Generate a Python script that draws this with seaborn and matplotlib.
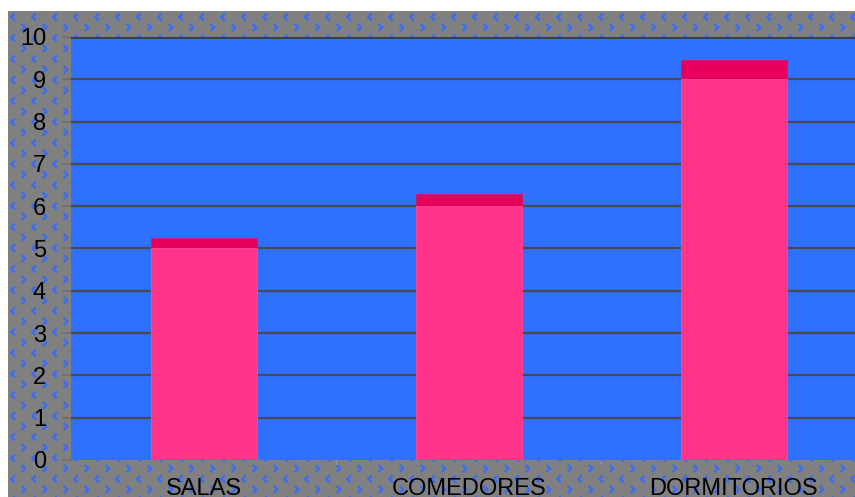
import numpy as np
import pandas as pd
import matplotlib
matplotlib.use("Agg")
import matplotlib.pyplot as plt
from matplotlib.path import Path
from matplotlib.patches import Rectangle
import seaborn as sns

# Room counts: main column value plus the darker cap on top
categories = ["SALAS", "COMEDORES", "DORMITORIOS"]
base_values = [5, 6, 9]
cap_values = [0.25, 0.3, 0.45]
y_ticks = list(range(0, 11))

df = pd.DataFrame({
    "categoria": categories,
    "base": base_values,
    "total": [b + c for b, c in zip(base_values, cap_values)],
})

sns.set_theme(style="white")
plt.rcParams["font.family"] = ["Liberation Sans", "DejaVu Sans"]

W, H = 855, 497
fig = plt.figure(figsize=(W / 100, H / 100), dpi=100, facecolor="white")

# Patterned grey panel behind the chart
bg = fig.add_axes([0, 0, 1, 1], zorder=0)
bg.set_xlim(0, W)
bg.set_ylim(H, 0)
bg.axis("off")
bg.add_patch(Rectangle((8, 11), W, H, facecolor="#808080", edgecolor="none"))

left_chev = Path([(0.55, 1.0), (-0.55, 0.0), (0.55, -1.0)],
                 [Path.MOVETO, Path.LINETO, Path.LINETO])
right_chev = Path([(-0.55, 1.0), (0.55, 0.0), (-0.55, -1.0)],
                  [Path.MOVETO, Path.LINETO, Path.LINETO])
step = 21.0
xs = np.arange(13, W + step, step)
ys = np.arange(17, H + step, step)
gx, gy = np.meshgrid(xs, ys)
bg.scatter(gx.ravel(), gy.ravel(), marker=left_chev, s=25, facecolors="none",
           edgecolors="#3b6cf2", linewidths=1.7)
gx2, gy2 = np.meshgrid(xs - step / 2, ys + step / 2)
bg.scatter(gx2.ravel(), gy2.ravel(), marker=right_chev, s=25, facecolors="none",
           edgecolors="#3b6cf2", linewidths=1.7)
bg.add_patch(Rectangle((0, 0), 8, H, facecolor="white", edgecolor="none", zorder=5))
bg.add_patch(Rectangle((0, 0), W, 11, facecolor="white", edgecolor="none", zorder=5))

# Main plot area
ax_left = 71 / W
ax_bottom = 37 / H
ax_width = (866.5 - 71) / W
ax_height = (460 - 37) / H
ax = fig.add_axes([ax_left, ax_bottom, ax_width, ax_height], zorder=1)
ax.set_facecolor("#2f70ff")

sns.barplot(data=df, x="categoria", y="total", color="#e6005c", width=0.4,
            saturation=1, ax=ax, zorder=3, edgecolor="#d0186a", linewidth=0.6)
sns.barplot(data=df, x="categoria", y="base", color="#ff3388", width=0.4,
            saturation=1, ax=ax, zorder=4, edgecolor="#ff4a95", linewidth=0.6)

ax.set_xlim(-0.5, 2.5)
ax.set_ylim(0, 10)
ax.set_yticks(y_ticks)
ax.set_yticklabels([str(t) for t in y_ticks])
ax.set_xlabel("")
ax.set_ylabel("")

for t in y_ticks[1:]:
    ax.axhline(t, color="#4a4a4a" if t < 10 else "#3a3a3a",
               linewidth=1.6 if t < 10 else 2.0, zorder=2)

for s in ax.spines.values():
    s.set_visible(False)

ax.tick_params(axis="y", which="major", direction="out", length=6.5, width=1.2,
               color="#6e6e6e", pad=11.5, labelsize=17, labelcolor="black",
               left=True)
ax.tick_params(axis="x", which="major", length=0, pad=13, labelsize=17,
               labelcolor="black")
ax.set_xticks([0.5, 1.5], minor=True)
ax.tick_params(axis="x", which="minor", direction="out", length=3, width=1,
               color="#9a9a9a", bottom=True)

fig.savefig("out.png", dpi=100, facecolor="white")
